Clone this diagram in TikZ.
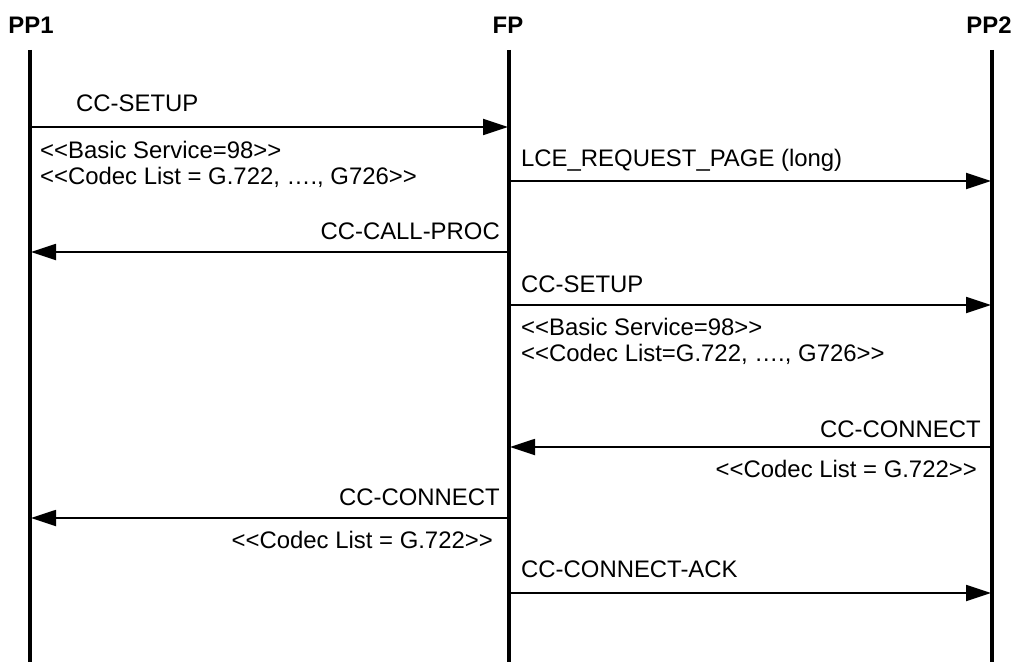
\documentclass[tikz,border=0pt]{standalone}
\usepackage{fontspec}
\setmainfont{Liberation Sans}[Ligatures=TeXOff]
\usepackage{tikz}
\usetikzlibrary{arrows.meta}

\tikzset{
  head/.style={font=\fontsize{23.9}{26}\selectfont\bfseries, inner sep=0pt},
  lbl/.style={font=\fontsize{23.9}{25.5}\selectfont, inner sep=0pt, align=left},
  lifeline/.style={line width=3.2pt},
  msg/.style={line width=1.8pt, -{Triangle[length=25pt,width=16pt]}}
}

\begin{document}
\begin{tikzpicture}[x=1pt, y=-1pt]

        \useasboundingbox (0,0) rectangle (1015,666);

        % Entities
        \node[head, anchor=base] (pp1) at (31,34) {PP1};
        \node[head, anchor=base] (fp) at (508,34) {FP};
        \node[head, anchor=base] (pp2) at (989,34) {PP2};

        % Lifelines
        \coordinate (pp1top) at (30,50);
        \coordinate (pp1bot) at (30,662);
        \coordinate (fptop) at (509,50);
        \coordinate (fpbot) at (509,662);
        \coordinate (pp2top) at (992,50);
        \coordinate (pp2bot) at (992,662);
        \draw[lifeline] (pp1top) -- (pp1bot);
        \draw[lifeline] (fptop) -- (fpbot);
        \draw[lifeline] (pp2top) -- (pp2bot);

        % CC-SETUP PP1 -> FP
        \coordinate (setupA) at (31,127);
        \coordinate (setupB) at (508,127);
        \draw[msg] (setupA) -- (setupB);
        \node[lbl, anchor=base west] (setupL) at (76,112) {CC-SETUP};
        \node[lbl, anchor=north west] (setupP) at (40,141) {<<Basic Service=98>>\\<<Codec List = G.722, …., G726>>};

        % LCE_REQUEST_PAGE FP -> PP2
        \coordinate (pageA) at (510,181);
        \coordinate (pageB) at (991,181);
        \draw[msg] (pageA) -- (pageB);
        \node[lbl, anchor=base west] (pageL) at (521,167) {LCE\_REQUEST\_PAGE (long)};

        % CC-CALL-PROC FP -> PP1
        \coordinate (procA) at (508,252);
        \coordinate (procB) at (31,252);
        \draw[msg] (procA) -- (procB);
        \node[lbl, anchor=base east] (procL) at (500,239) {CC-CALL-PROC};

        % CC-SETUP FP -> PP2
        \coordinate (setup2A) at (510,305);
        \coordinate (setup2B) at (991,305);
        \draw[msg] (setup2A) -- (setup2B);
        \node[lbl, anchor=base west] (setup2L) at (521,292) {CC-SETUP};
        \node[lbl, anchor=north west] (setup2P) at (521,318) {<<Basic Service=98>>\\<<Codec List=G.722, …., G726>>};

        % CC-CONNECT PP2 -> FP
        \coordinate (connA) at (991,447);
        \coordinate (connB) at (510,447);
        \draw[msg] (connA) -- (connB);
        \node[lbl, anchor=base east] (connL) at (981,437) {CC-CONNECT};
        \node[lbl, anchor=base east] (connP) at (977,477) {<<Codec List = G.722>>};

        % CC-CONNECT FP -> PP1
        \coordinate (conn2A) at (508,518);
        \coordinate (conn2B) at (31,518);
        \draw[msg] (conn2A) -- (conn2B);
        \node[lbl, anchor=base east] (conn2L) at (500,505) {CC-CONNECT};
        \node[lbl, anchor=base east] (conn2P) at (493,548) {<<Codec List = G.722>>};

        % CC-CONNECT-ACK FP -> PP2
        \coordinate (ackA) at (510,593);
        \coordinate (ackB) at (991,593);
        \draw[msg] (ackA) -- (ackB);
        \node[lbl, anchor=base west] (ackL) at (521,577) {CC-CONNECT-ACK};

\end{tikzpicture}
\end{document}
